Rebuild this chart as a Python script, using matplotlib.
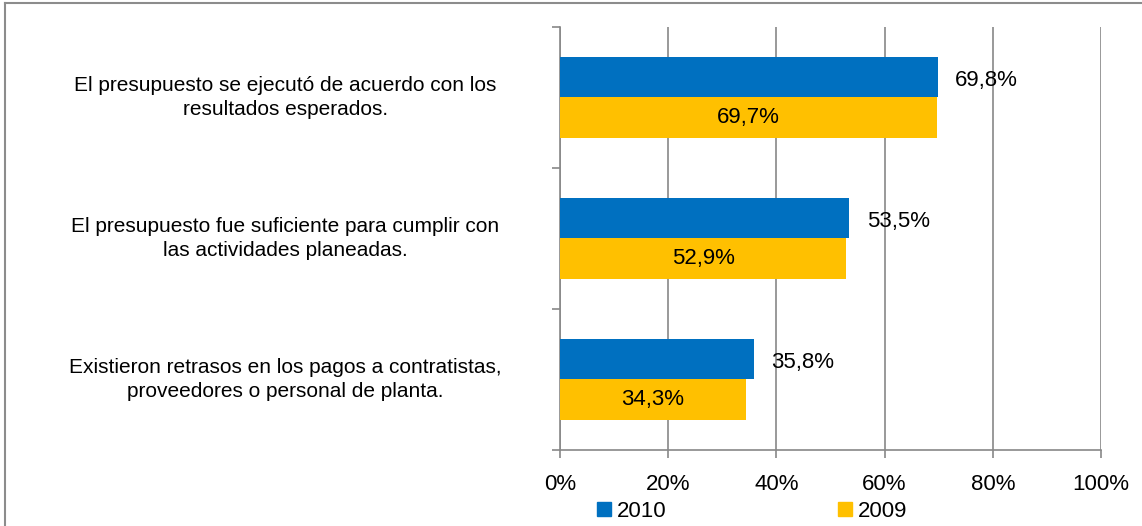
import numpy as np
import matplotlib.pyplot as plt
from matplotlib.lines import Line2D
from matplotlib.patches import Patch

plt.rcParams['font.family'] = ['Liberation Sans', 'DejaVu Sans']

categorias = [
    "El presupuesto se ejecutó de acuerdo con los\nresultados esperados.",
    "El presupuesto fue suficiente para cumplir con\nlas actividades planeadas.",
    "Existieron retrasos en los pagos a contratistas,\nproveedores o personal de planta.",
]
valores_2010 = [69.8, 53.5, 35.8]
valores_2009 = [69.7, 52.9, 34.3]
etiquetas_2010 = ["69,8%", "53,5%", "35,8%"]
etiquetas_2009 = ["69,7%", "52,9%", "34,3%"]

azul = "#0070C0"
amarillo = "#FFC000"
gris = "#888888"

fig = plt.figure(figsize=(11.42, 5.26), dpi=100)
ax = fig.add_axes([0.4904, 0.1445, 0.4737, 0.8042])

y = np.arange(len(categorias))
alto = 0.284
ax.barh(y - alto / 2, valores_2010, height=alto, color=azul, zorder=3)
ax.barh(y + alto / 2, valores_2009, height=alto, color=amarillo, zorder=3)

for i in range(len(categorias)):
    ax.text(valores_2010[i] + 3.2, y[i] - alto / 2 + 0.02, etiquetas_2010[i],
            ha='left', va='center', fontsize=16, zorder=4)
    ax.text(valores_2009[i] / 2, y[i] + alto / 2, etiquetas_2009[i],
            ha='center', va='center', fontsize=16, zorder=4)
    ax.text(-0.508, y[i], categorias[i], transform=ax.get_yaxis_transform(),
            ha='center', va='center', fontsize=15, linespacing=1.32)

ax.set_xlim(0, 100)
ax.set_ylim(len(categorias) - 0.5, -0.5)
ax.set_xticks(np.arange(0, 101, 20))
ax.set_xticklabels([f"{v}%" for v in range(0, 101, 20)], fontsize=16)
ax.set_yticks(np.arange(-0.5, len(categorias), 1))
ax.set_yticklabels([])
ax.tick_params(axis='y', length=6, color=gris, width=1.2)
ax.tick_params(axis='x', length=6, color=gris, width=1.2, pad=11)
ax.grid(axis='x', color=gris, linewidth=1.2, zorder=0)

for lado in ['top', 'right']:
    ax.spines[lado].set_visible(False)
for lado in ['left', 'bottom']:
    ax.spines[lado].set_color(gris)
    ax.spines[lado].set_linewidth(1.2)

# leyenda
manijas = [Patch(color=azul), Patch(color=amarillo)]
fig.legend(manijas, ["2010", "2009"], ncol=2, frameon=False, fontsize=16,
           loc='center left', bbox_to_anchor=(0.5055, 0.0276),
           handlelength=0.6, handleheight=0.6, handletextpad=0.27,
           columnspacing=7.75)

# marco del gráfico
fig.add_artist(Line2D([5 / 1142, 1], [1 - 3 / 526, 1 - 3 / 526],
                      transform=fig.transFigure, color="#8c8c8c", lw=1.5))
fig.add_artist(Line2D([5 / 1142, 5 / 1142], [0, 1 - 3 / 526],
                      transform=fig.transFigure, color="#8c8c8c", lw=1.5))

fig.savefig("out.png", dpi=100)
